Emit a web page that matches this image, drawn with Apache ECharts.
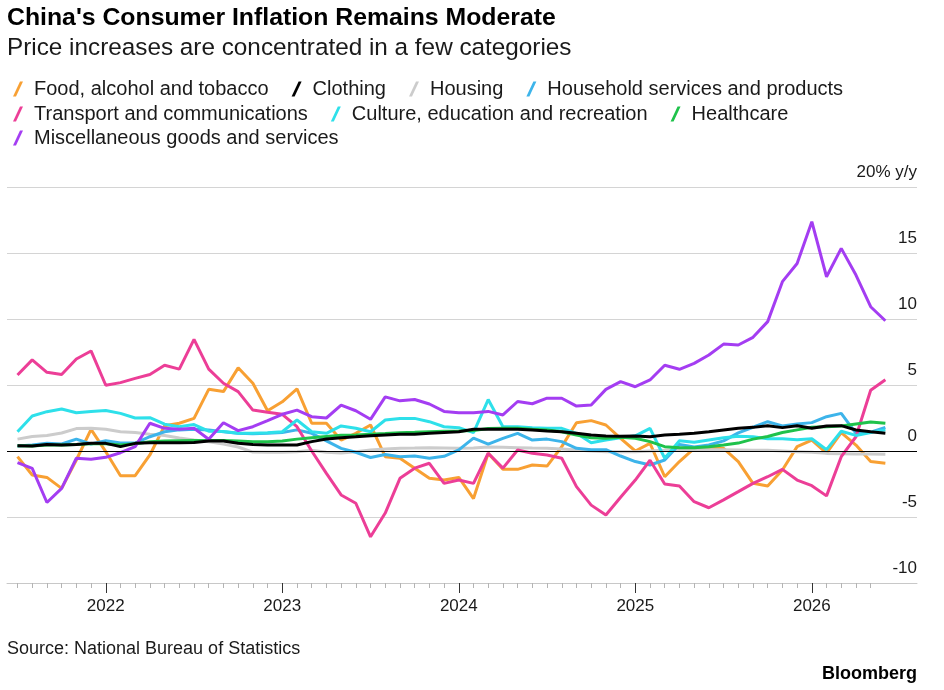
<!DOCTYPE html>
<html><head><meta charset="utf-8">
<script src="https://cdn.jsdelivr.net/npm/echarts@6/dist/echarts.min.js"></script>
<style>html,body{margin:0;padding:0;background:#fff}#c{width:944px;height:690px}</style>
</head><body><div id="c"></div>
<script>
// Month index 0 = Jul 2021 ... 59 = Jun 2026
const months = Array.from({length: 60}, (_, i) => {
  const m = 6 + i; return (2021 + Math.floor(m / 12)) + '-' + String(m % 12 + 1).padStart(2, '0');
});
const yearTickIdx = [6, 18, 30, 42, 54];
const yearLabels = ['2022', '2023', '2024', '2025', '2026'];
const yTickMin = -10, yTickMax = 20, yTickStep = 5;

const food = [
-0.43, -1.82, -2.0, -2.83, -0.68, 1.64, -0.05, -1.87, -1.87, -0.3,
1.92, 2.1, 2.47, 4.67, 4.5, 6.3, 5.13, 3.05, 3.73, 4.7,
2.1, 2.1, 0.83, 1.34, 1.97, -0.43, -0.55, -1.3, -2.07, -2.2,
-2.0, -3.6, -0.18, -1.39, -1.39, -1.06, -1.14, 0.33, 2.14, 2.3,
1.97, 0.96, 0.0, 0.58, -1.95, -0.8, 0.2, 0.2, 0.2, -0.8,
-2.45, -2.65, -1.44, 0.33, 0.83, -0.17, 1.39, 0.45, -0.8, -0.93];
const clothing = [
0.4, 0.38, 0.5, 0.45, 0.5, 0.58, 0.58, 0.33, 0.58, 0.63,
0.63, 0.63, 0.65, 0.76, 0.76, 0.58, 0.5, 0.45, 0.45, 0.45,
0.71, 0.91, 1.01, 1.08, 1.16, 1.21, 1.26, 1.26, 1.34, 1.41,
1.46, 1.64, 1.64, 1.64, 1.64, 1.59, 1.51, 1.46, 1.34, 1.21,
1.14, 1.12, 1.14, 1.08, 1.21, 1.26, 1.34, 1.46, 1.59, 1.72,
1.79, 1.92, 1.77, 1.92, 1.72, 1.89, 1.92, 1.59, 1.46, 1.34];
const housing = [
0.9, 1.1, 1.18, 1.36, 1.7, 1.72, 1.64, 1.46, 1.41, 1.27,
1.18, 0.98, 0.83, 0.7, 0.52, 0.3, -0.08, -0.1, -0.1, -0.05,
0.05, -0.1, -0.15, -0.05, 0.08, 0.15, 0.2, 0.22, 0.25, 0.23,
0.2, 0.22, 0.3, 0.28, 0.25, 0.22, 0.2, 0.15, 0.08, 0.0,
-0.05, -0.05, -0.05, 0.0, 0.05, 0.1, 0.1, 0.1, 0.1, 0.08,
0.05, 0.05, 0.0, -0.05, -0.1, -0.18, -0.2, -0.22, -0.23, -0.25];
const household = [
0.38, 0.45, 0.58, 0.53, 0.9, 0.53, 0.78, 0.6, 0.6, 1.08,
1.46, 1.6, 1.64, 1.59, 1.46, 1.34, 1.3, 1.34, 1.4, 1.6,
1.34, 0.77, 0.2, -0.1, -0.49, -0.27, -0.43, -0.38, -0.55, -0.4,
0.08, 0.98, 0.52, 0.96, 1.34, 0.83, 0.9, 0.71, 0.2, 0.1,
0.1, -0.38, -0.8, -1.06, -0.68, 0.5, 0.3, 0.45, 0.77, 1.37,
1.8, 2.22, 1.9, 2.05, 2.15, 2.6, 2.85, 1.34, 1.42, 1.78];
const transport = [
5.76, 6.9, 5.96, 5.8, 6.97, 7.58, 4.98, 5.18, 5.5, 5.8,
6.5, 6.2, 8.46, 6.2, 5.13, 4.5, 3.1, 2.93, 2.78, 1.84,
0.0, -1.7, -3.33, -3.96, -6.5, -4.7, -2.07, -1.3, -0.93, -2.45,
-2.2, -2.45, -0.17, -1.3, 0.08, -0.17, -0.3, -0.55, -2.7, -4.1,
-4.85, -3.5, -2.2, -0.7, -2.5, -2.65, -3.84, -4.3, -3.7, -3.08,
-2.45, -1.95, -1.39, -2.2, -2.63, -3.4, -0.43, 1.08, 4.6, 5.4];
const culture = [
1.46, 2.65, 2.98, 3.18, 2.9, 3.0, 3.07, 2.85, 2.5, 2.52,
2.03, 1.83, 2.0, 1.5, 1.48, 1.34, 1.34, 1.39, 1.46, 2.35,
1.46, 1.34, 1.9, 1.72, 1.46, 2.35, 2.47, 2.47, 2.22, 1.84,
1.77, 1.39, 3.9, 1.84, 1.84, 1.77, 1.72, 1.72, 1.34, 0.63,
0.83, 1.0, 1.15, 1.72, -0.55, 0.77, 0.66, 0.83, 1.0, 1.12,
1.08, 0.93, 0.93, 0.86, 0.93, 0.1, 1.5, 1.18, 1.4, 1.6];
const healthcare = [
0.4, 0.38, 0.45, 0.45, 0.5, 0.55, 0.55, 0.45, 0.55, 0.7,
0.75, 0.78, 0.8, 0.8, 0.8, 0.75, 0.7, 0.7, 0.75, 0.9,
1.0, 1.1, 1.2, 1.22, 1.26, 1.32, 1.39, 1.42, 1.46, 1.5,
1.51, 1.55, 1.7, 1.72, 1.72, 1.65, 1.59, 1.46, 1.21, 1.01,
0.96, 1.05, 0.96, 0.71, 0.33, 0.25, 0.25, 0.33, 0.45, 0.6,
0.9, 1.1, 1.4, 1.6, 1.8, 1.84, 1.9, 2.05, 2.2, 2.1];
const misc = [
-0.88, -1.31, -3.9, -2.83, -0.55, -0.63, -0.48, -0.13, 0.33, 2.1,
1.72, 1.64, 1.72, 0.89, 2.14, 1.54, 1.84, 2.3, 2.78, 3.1,
2.6, 2.5, 3.48, 3.05, 2.4, 4.1, 3.8, 3.9, 3.56, 3.0,
2.9, 2.9, 3.0, 2.73, 3.75, 3.58, 4.0, 4.0, 3.4, 3.48,
4.67, 5.25, 4.87, 5.38, 6.5, 6.19, 6.64, 7.27, 8.1, 8.03,
8.61, 9.8, 12.83, 14.2, 17.37, 13.2, 15.35, 13.33, 10.93, 9.87];

const names = ['Food, alcohol and tobacco', 'Clothing', 'Housing', 'Household services and products',
  'Transport and communications', 'Culture, education and recreation', 'Healthcare', 'Miscellaneous goods and services'];
const values = [food, clothing, housing, household, transport, culture, healthcare, misc];
const colors = ['#f8a033', '#000000', '#cccccc', '#3db4ea', '#ec3e97', '#2ee0ea', '#1fc24b', '#a43df2'];

const FONT = '"Liberation Sans", Arial, sans-serif';
const tickMonths = months.slice(0, 59);   // months that carry a tick mark
const xMin = -0.714, xMax = 61.15;
const PX_PER_MONTH = 14.71, X0 = 17.5;     // layout of the tick strip

const chart = echarts.init(document.getElementById('c'), null, {renderer: 'canvas'});
const legendCommon = {
  left: 8, orient: 'horizontal', itemGap: 23, itemWidth: 10, itemHeight: 15,
  icon: 'path://M7,0 L10,0 L3,15 L0,15 Z', selectedMode: false,
  textStyle: {fontFamily: FONT, fontSize: 20, color: '#1a1a1a', padding: [0, 0, 0, 6]}
};
const series = names.map((n, k) => ({
  name: n, type: 'line', symbol: 'none', z: k === 1 ? 4 : 3,
  xAxisIndex: 0, yAxisIndex: 0,
  lineStyle: {color: colors[k], width: 3}, itemStyle: {color: colors[k]},
  data: values[k].map((v, i) => [i, v])
}));
series.unshift({
  name: 'zero', type: 'line', data: [], z: 2, symbol: 'none', xAxisIndex: 0, yAxisIndex: 0,
  markLine: {silent: true, symbol: 'none', label: {show: false},
    lineStyle: {color: '#000', width: 1, type: 'solid'}, data: [{yAxis: 0}]}
});

const isYear = (i) => yearTickIdx.indexOf(i) >= 0;
chart.setOption({
  animation: false,
  backgroundColor: '#fff',
  title: [
    {text: "China's Consumer Inflation Remains Moderate", left: 7, top: 6, padding: 0,
      textStyle: {fontFamily: FONT, fontSize: 24.8, fontWeight: 'bold', color: '#000'}},
    {text: 'Price increases are concentrated in a few categories', left: 7, top: 36, padding: 0,
      textStyle: {fontFamily: FONT, fontSize: 24.3, fontWeight: 'normal', color: '#1a1a1a'}},
    {text: 'Source: National Bureau of Statistics', left: 7, top: 640, padding: 0,
      textStyle: {fontFamily: FONT, fontSize: 18, fontWeight: 'normal', color: '#1a1a1a'}},
    {text: 'Bloomberg', right: 27, top: 665, padding: 0,
      textStyle: {fontFamily: FONT, fontSize: 18, fontWeight: 'bold', color: '#000'}}
  ],
  legend: [
    Object.assign({}, legendCommon, {top: 74, data: names.slice(0, 4)}),
    Object.assign({}, legendCommon, {top: 99, data: names.slice(4, 7)}),
    Object.assign({}, legendCommon, {top: 123, data: names.slice(7)})
  ],
  grid: [
    {left: 7, right: 27, top: 187, bottom: 107, containLabel: false},
    {left: X0, width: (tickMonths.length - 1) * PX_PER_MONTH, top: 187, bottom: 107, containLabel: false},
    {left: X0, width: (tickMonths.length - 1) * PX_PER_MONTH, top: 187, bottom: 107, containLabel: false}
  ],
  xAxis: [
    {type: 'value', gridIndex: 0, min: xMin, max: xMax, position: 'bottom',
      axisLine: {show: true, onZero: false, lineStyle: {color: '#c8c8c8', width: 1}},
      axisTick: {show: false}, axisLabel: {show: false}, splitLine: {show: false}},
    {type: 'category', gridIndex: 1, data: tickMonths, boundaryGap: false, position: 'bottom',
      axisLine: {show: true, onZero: false, lineStyle: {color: 'rgba(0,0,0,0)'}},
      axisTick: {show: true, interval: 0, length: 5, lineStyle: {color: '#b4b4b4', width: 1}},
      axisLabel: {show: false}, splitLine: {show: false}},
    {type: 'category', gridIndex: 2, data: tickMonths, boundaryGap: false, position: 'bottom',
      axisLine: {show: true, onZero: false, lineStyle: {color: 'rgba(0,0,0,0)'}},
      axisTick: {show: true, interval: (i) => isYear(i), length: 10, lineStyle: {color: '#333', width: 1}},
      axisLabel: {show: true, interval: (i) => isYear(i), margin: 15, fontFamily: FONT, fontSize: 17, color: '#1a1a1a',
        formatter: (v, i) => yearLabels[yearTickIdx.indexOf(i)] || ''},
      splitLine: {show: false}}
  ],
  yAxis: [
    {type: 'value', gridIndex: 0, position: 'right', min: yTickMin, max: yTickMax, interval: yTickStep,
      axisLine: {show: false}, axisTick: {show: false},
      splitLine: {show: true, lineStyle: {color: '#d4d4d4', width: 1}},
      axisLabel: {inside: true, margin: 0, verticalAlign: 'bottom', padding: [0, 0, 6, 0],
        fontFamily: FONT, fontSize: 17, color: '#1a1a1a',
        formatter: v => v === yTickMax ? yTickMax + '% y/y' : String(v)}},
    {type: 'value', gridIndex: 1, show: false, min: yTickMin, max: yTickMax},
    {type: 'value', gridIndex: 2, show: false, min: yTickMin, max: yTickMax}
  ],
  series: series
});
</script></body></html>
